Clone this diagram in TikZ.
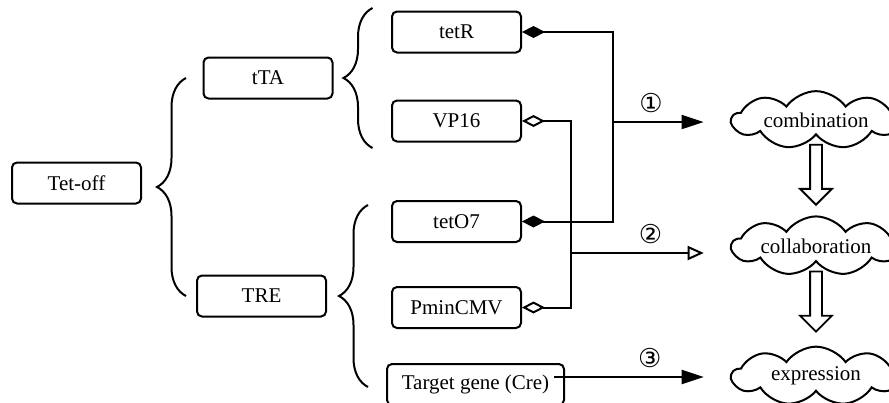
\documentclass[tikz,border=0pt]{standalone}
\usepackage{fontspec}
\setmainfont{Liberation Serif}
\newfontfamily\circfont{DejaVu Sans}
\usepackage{tikz}
\usetikzlibrary{arrows.meta,positioning,shapes.symbols,shapes.arrows,decorations.pathreplacing,calc}
\tikzset{
  genebox/.style={rounded corners=5pt, draw, line width=2pt, align=center, inner sep=2pt, minimum width=129pt, minimum height=41pt, font=\fontsize{21}{24}\selectfont},
  cloudbox/.style={cloud, cloud puffs=9, cloud puff arc=110, cloud ignores aspect, draw, line width=2pt, inner xsep=2pt, inner ysep=4pt, minimum width=168pt, minimum height=54pt, font=\fontsize{21}{24}\selectfont},
  brace/.style={decorate, decoration={brace, amplitude=29pt}, line width=2pt},
  filledlink/.style={{Diamond[length=23pt, width=12pt]}-{Diamond[length=23pt, width=12pt]}, line width=2pt},
  openlink/.style={{Diamond[open, length=23pt, width=12pt]}-{Diamond[open, length=23pt, width=12pt]}, line width=2pt},
  arrow/.style={-{Triangle[length=22pt, width=14pt]}, line width=2pt},
  openarrow/.style={-{Triangle[open, length=16pt, width=14pt]}, line width=2pt},
  stepmark/.style={inner sep=0pt, font=\circfont\fontsize{26}{26}\selectfont},
  downarrow/.style={single arrow, draw, line width=1.8pt, shape border rotate=270, inner sep=5pt, minimum height=60pt, minimum width=30pt, single arrow head extend=10pt, single arrow tip angle=90}
}
\begin{document}
\begin{tikzpicture}[x=1pt, y=-1pt]
  \useasboundingbox (0,0) rectangle (889,402);
  % left part
  \node[genebox] (tetoff) at (76.5,183) {Tet-off};
  \node[genebox] (tTA) at (268,78) {tTA};
  \node[genebox] (TRE) at (261.5,296) {TRE};
  % components
  \node[genebox] (tetR) at (456.5,32) {tetR};
  \node[genebox, below=46pt of tetR] (VP16) {VP16};
  \node[genebox, below=57.5pt of VP16] (tetO7) {tetO7};
  \node[genebox, below=43pt of tetO7] (PminCMV) {PminCMV};
  \node[genebox, minimum width=177pt, below right=34pt and -5pt of PminCMV.south west] (target) {Target gene (Cre)};
  % results
  \node[cloudbox] (comb) at (816,120) {combination};
  \node[cloudbox] (coll) at (816,246) {collaboration};
  \node[cloudbox] (expr) at (816,376) {expression};

  \draw[brace] ([xshift=-10pt]TRE.west) coordinate (b1) -- (b1 |- tTA.west);
  \draw[brace] ([shift={(39,70)}]tTA.east) -- ([shift={(39,-70)}]tTA.east);
  \draw[brace] ([shift={(41,91)}]TRE.east) -- ([shift={(41,-91)}]TRE.east);

  \draw[filledlink] (tetR.east) -- ++(91,0) coordinate (r1) |- (tetO7.east);
  \draw[openlink] (VP16.east) -- ++(49,0) coordinate (r2) |- (PminCMV.east);

  \coordinate (c1) at ([xshift=-26pt, yshift=-2pt]comb.west);
  \coordinate (c2) at ([xshift=-26pt, yshift=-7pt]coll.west);
  \coordinate (c3) at ([xshift=-26pt, yshift=-1pt]expr.west);
  \draw[arrow] (r1 |- c1) -- node[stepmark, pos=0.42, above=8pt] (s1) {①} (c1);
  \draw[openarrow] (r2 |- c2) -- node[stepmark, pos=0.6, above=8pt] (s2) {②} (c2);
  \draw[arrow] (c3 -| target.east) ++(-11,0) -- node[stepmark, pos=0.64, above=8pt] (s3) {③} (c3);

  \node[downarrow, anchor=tail] (d1) at ($(comb.south)+(0,8)$) {};
  \node[downarrow, anchor=tail] (d2) at ($(coll.south)+(0,8)$) {};
\end{tikzpicture}
\end{document}
